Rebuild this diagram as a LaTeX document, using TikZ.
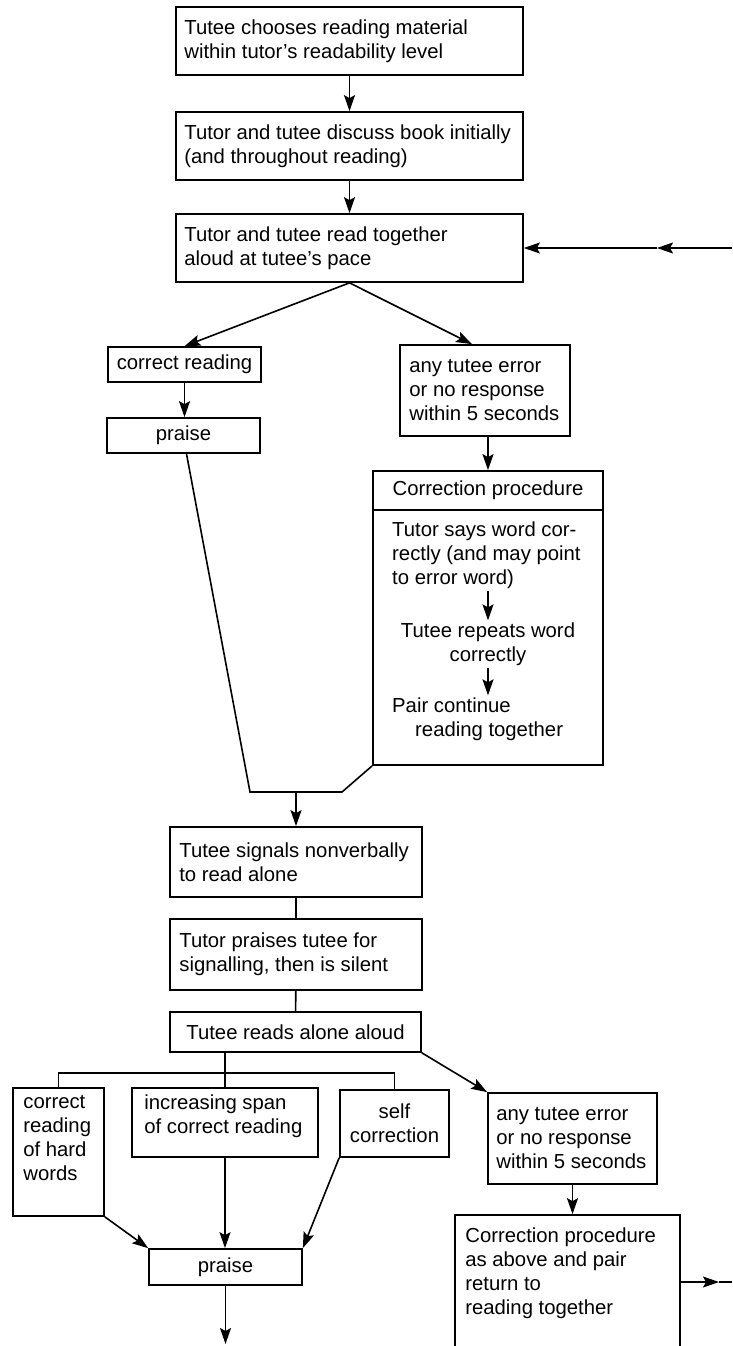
\documentclass[tikz,border=0pt]{standalone}
\usepackage{fontspec}
\setmainfont{Liberation Sans}
\usetikzlibrary{arrows.meta}
% text size used in every box
\newcommand\diafont{\fontsize{20.3}{24}\selectfont}
\begin{document}
\begin{tikzpicture}[x=1pt,y=-1pt,
  box/.style={draw, line width=1.7pt, inner sep=0pt, font=\diafont},
  txt/.style={inner sep=0pt, font=\diafont, align=left},
  stepnote/.style={inner sep=2pt, font=\diafont},
  link/.style={line width=1.6pt},
  arr/.style={line width=1.6pt, -{Stealth[length=16pt,width=11pt,inset=3pt]}}]
\fill[white] (0,0) rectangle (732,1346);
\useasboundingbox (0,0) rectangle (732,1346);
\clip (0,0) rectangle (732,1346);

% reading together
\node[box, minimum width=347pt, minimum height=68pt] (b1) at (349.5,41) {};
\node[txt, anchor=west] (b1t) at ([xshift=9pt]b1.west)
  {Tutee chooses reading material\\within tutor's readability level};
\node[box, minimum width=347pt, minimum height=68pt] (b2) at (349.5,146) {};
\node[txt, anchor=west] (b2t) at ([xshift=9pt]b2.west)
  {Tutor and tutee discuss book initially\\(and throughout reading)};
\node[box, minimum width=347pt, minimum height=68pt] (b3) at (349.5,248) {};
\node[txt, anchor=west] (b3t) at ([xshift=9pt]b3.west)
  {Tutor and tutee read together\\aloud at tutee's pace};
\node[box, minimum width=153pt, minimum height=35pt] (cr) at (184.5,364.5) {correct reading};
\node[box, minimum width=153pt, minimum height=35pt] (p1) at (183.5,435.5) {praise};
\node[box, minimum width=170pt, minimum height=91pt] (err1) at (485,390.5) {};
\node[txt, anchor=west] (err1t) at ([xshift=10pt]err1.west)
  {any tutee error\\or no response\\within 5 seconds};
\node[box, minimum width=230pt, minimum height=39pt] (ch) at (488,490.5) {Correction procedure};
\node[box, minimum width=230pt, minimum height=255pt] (cb) at (488,637.5) {};
\node[stepnote, anchor=west, align=left] (t1) at (390,555)
  {Tutor says word cor-\\rectly (and may point\\to error word)};
\node[stepnote, align=center] (t2) at (488,644) {Tutee repeats word\\correctly};
\node[stepnote, anchor=west, align=left] (t3) at (390,719) {Pair continue\\\hspace*{23pt}reading together};

% reading alone
\node[box, minimum width=252pt, minimum height=70pt] (sig) at (296,862) {};
\node[txt, anchor=west] (sigt) at ([xshift=10pt]sig.west) {Tutee signals nonverbally\\to read alone};
\node[box, minimum width=252pt, minimum height=71pt] (pr) at (296,954.5) {};
\node[txt, anchor=west] (prt) at ([xshift=10pt]pr.west) {Tutor praises tutee for\\signalling, then is silent};
\node[box, minimum width=251pt, minimum height=40pt] (rd) at (295.5,1032) {Tutee reads alone aloud};
\node[box, minimum width=91pt, minimum height=128pt] (hw) at (58.5,1152) {};
\node[txt, anchor=north west] (hwt) at ([xshift=11pt,yshift=-8.5pt]hw.north west)
  {correct\\reading\\of hard\\words};
\node[box, minimum width=186pt, minimum height=69pt] (isp) at (225,1122.5) {};
\node[txt, anchor=north west] (ispt) at ([xshift=13pt,yshift=-7.5pt]isp.north west)
  {increasing span\\of correct reading};
\node[box, minimum width=109pt, minimum height=67pt, align=center] (sc) at (394.5,1123.5) {self\\correction};
\node[box, minimum width=169pt, minimum height=91pt] (err2) at (572.5,1138.5) {};
\node[txt, anchor=west] (err2t) at ([xshift=9pt]err2.west)
  {any tutee error\\or no response\\within 5 seconds};
\node[box, minimum width=225pt, minimum height=200pt] (corr2) at (567.5,1315) {};
\node[txt, anchor=north west] (corr2t) at ([xshift=11pt,yshift=-13pt]corr2.north west)
  {Correction procedure\\as above and pair\\return to\\reading together};
\node[box, minimum width=153pt, minimum height=36pt] (p2) at (225.5,1267) {praise};

% connectors, upper part
\draw[arr] (b1) -- (b2);
\draw[arr] (b2) -- (b3);
\coordinate (fb) at (732,248);
\coordinate (fbm) at (657,248);
\draw[arr] (fb) -- (fbm);
\draw[arr] (fbm) -- (b3);
\draw[arr] (b3.south) -- (cr.north);
\draw[arr] (b3.south) -- ([xshift=-13pt]err1.north);
\draw[arr] (cr.south) -- (cr.south |- p1.north);
\draw[arr] (ch.north |- err1.south) -- (ch.north);
\draw[arr] (t1.south -| t2.north) -- (t2.north);
\draw[arr] (t2.south) -- (t2.south |- t3.north);
\coordinate (m1) at (250,792);
\coordinate (m2) at (342,792);
\draw[link] ([xshift=3pt]p1.south) -- (m1) -- (m2) -- (cb.south west);
\draw[arr] (sig.north |- m1) -- (sig.north);

% connectors, lower part
\draw[link] (sig) -- (pr);
\draw[link] (pr) -- (rd);
\coordinate (br) at (226,1073);
\draw[link] (hw.north) -- (hw.north |- br) -- (sc.north |- br) -- (sc.north);
\draw[link] (rd.south -| isp.north) -- (isp.north);
\draw[arr] (rd.south east) -- (err2.north west);
\draw[arr] (err2.south) -- (err2.south |- corr2.north);
\coordinate (om) at (719,1282);
\coordinate (out) at (732,1282);
\draw[arr] (corr2.east |- om) -- (om);
\draw[link] (om) -- (out);
\draw[arr] (hw.south east) -- (p2.north west);
\draw[arr] (isp.south) -- (isp.south |- p2.north);
\draw[arr] (sc.south west) -- (p2.north east);
\coordinate (pend) at (225.5,1344);
\draw[arr] (p2.south) -- (pend);
\end{tikzpicture}
\end{document}
